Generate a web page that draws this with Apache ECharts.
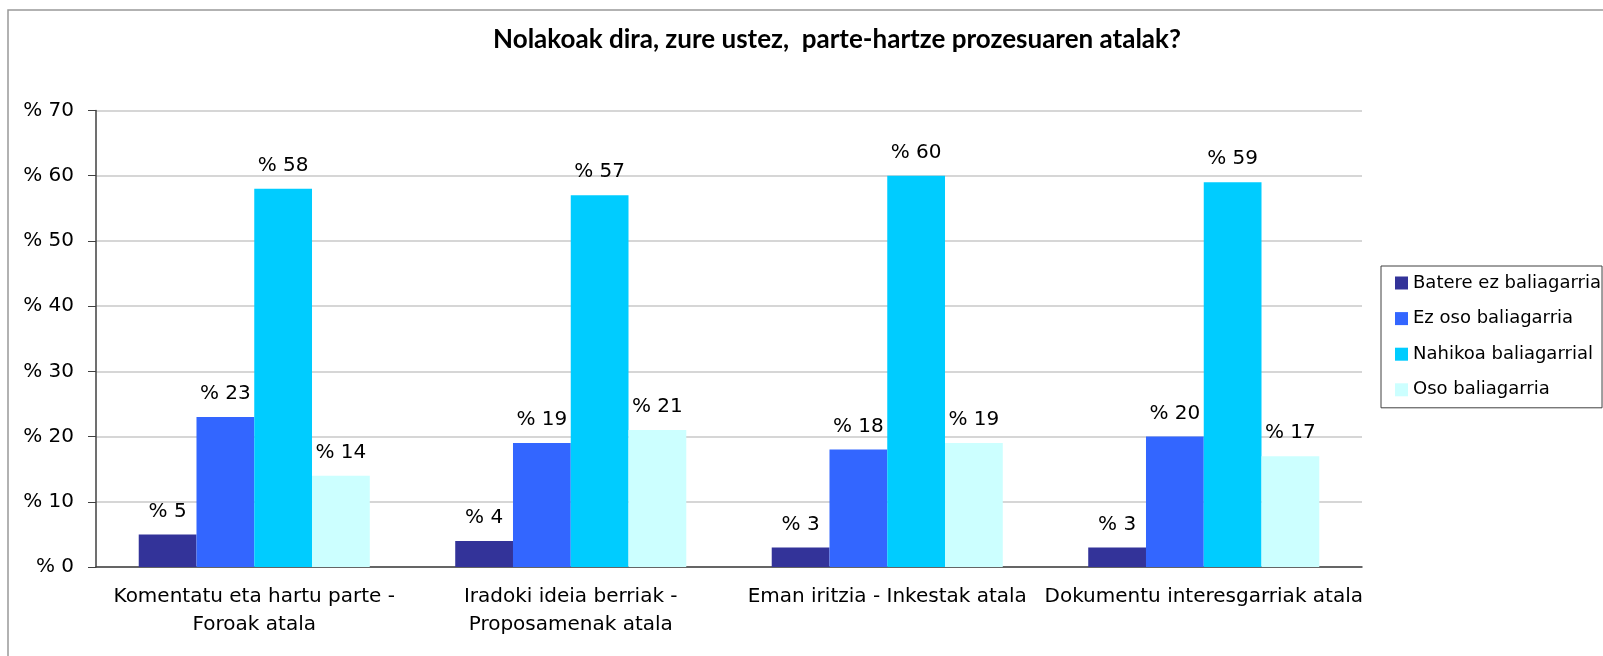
<!DOCTYPE html>
<html style="height: 100%">
<head>
<meta charset="utf-8">
</head>
<body style="height: 100%; margin: 0; background: #fff">
<div id="container" style="width: 1603px; height: 656px"></div>
<script type="text/javascript" src="https://cdn.jsdelivr.net/npm/echarts@6/dist/echarts.min.js"></script>
<script type="text/javascript">
var categories = [
    'Komentatu eta hartu parte -\nForoak atala',
    'Iradoki ideia berriak -\nProposamenak atala',
    'Eman iritzia - Inkestak atala',
    'Dokumentu interesgarriak atala'
];
var seriesNames = ['Batere ez baliagarria', 'Ez oso baliagarria', 'Nahikoa baliagarrial', 'Oso baliagarria'];
var batere = [5, 4, 3, 3];
var ezOso = [23, 19, 18, 20];
var nahikoa = [58, 57, 60, 59];
var oso = [14, 21, 19, 17];
var colors = ['#333399', '#3366ff', '#00ccff', '#ccffff'];

var font = 'DejaVu Sans';
var dom = document.getElementById('container');
var myChart = echarts.init(dom);

function makeSeries(name, data, color) {
    return {
        name: name,
        type: 'bar',
        data: data,
        barGap: '0%',
        barCategoryGap: '27%',
        itemStyle: {color: color},
        label: {
            show: true,
            position: 'top',
            distance: 13,
            formatter: '% {c}',
            fontFamily: font,
            fontSize: 20,
            color: '#000'
        }
    };
}

var option = {
    animation: false,
    color: colors,
    title: {
        text: 'Nolakoak dira, zure ustez,  parte-hartze prozesuaren atalak?',
        left: 832,
        textAlign: 'center',
        top: 22,
        textStyle: {fontFamily: 'Lato', fontWeight: 'bold', fontSize: 26, color: '#000'}
    },
    legend: {
        orient: 'vertical',
        left: 1381,
        top: 266,
        padding: [7, 1, 8, 14],
        itemGap: 15.6,
        itemWidth: 13,
        itemHeight: 13,
        icon: 'rect',
        borderColor: '#404040',
        borderWidth: 1,
        textStyle: {fontFamily: font, fontSize: 18, lineHeight: 20, color: '#000'},
        data: seriesNames
    },
    grid: {left: 96, right: 241, top: 110.5, bottom: 89},
    xAxis: {
        type: 'category',
        data: categories,
        axisLine: {lineStyle: {color: '#404040', width: 1.5}},
        axisTick: {length: 8, lineStyle: {color: '#404040'}},
        axisLabel: {fontFamily: font, fontSize: 20, lineHeight: 28, color: '#000', margin: 16, interval: 0}
    },
    yAxis: {
        type: 'value',
        min: 0,
        max: 70,
        interval: 10,
        axisLine: {show: true, lineStyle: {color: '#404040', width: 1.5}},
        axisTick: {show: true, length: 8, lineStyle: {color: '#404040'}},
        axisLabel: {fontFamily: font, fontSize: 20, color: '#000', margin: 22, formatter: '% {value}'},
        splitLine: {lineStyle: {color: '#c8c8c8', width: 1.5}}
    },
    graphic: [{
        type: 'rect',
        shape: {x: 8, y: 10, width: 1610, height: 660},
        style: {fill: null, stroke: '#999', lineWidth: 1.5},
        silent: true
    }],
    series: [
        makeSeries(seriesNames[0], batere, colors[0]),
        makeSeries(seriesNames[1], ezOso, colors[1]),
        makeSeries(seriesNames[2], nahikoa, colors[2]),
        makeSeries(seriesNames[3], oso, colors[3])
    ]
};

myChart.setOption(option, true);
</script>
</body>
</html>
